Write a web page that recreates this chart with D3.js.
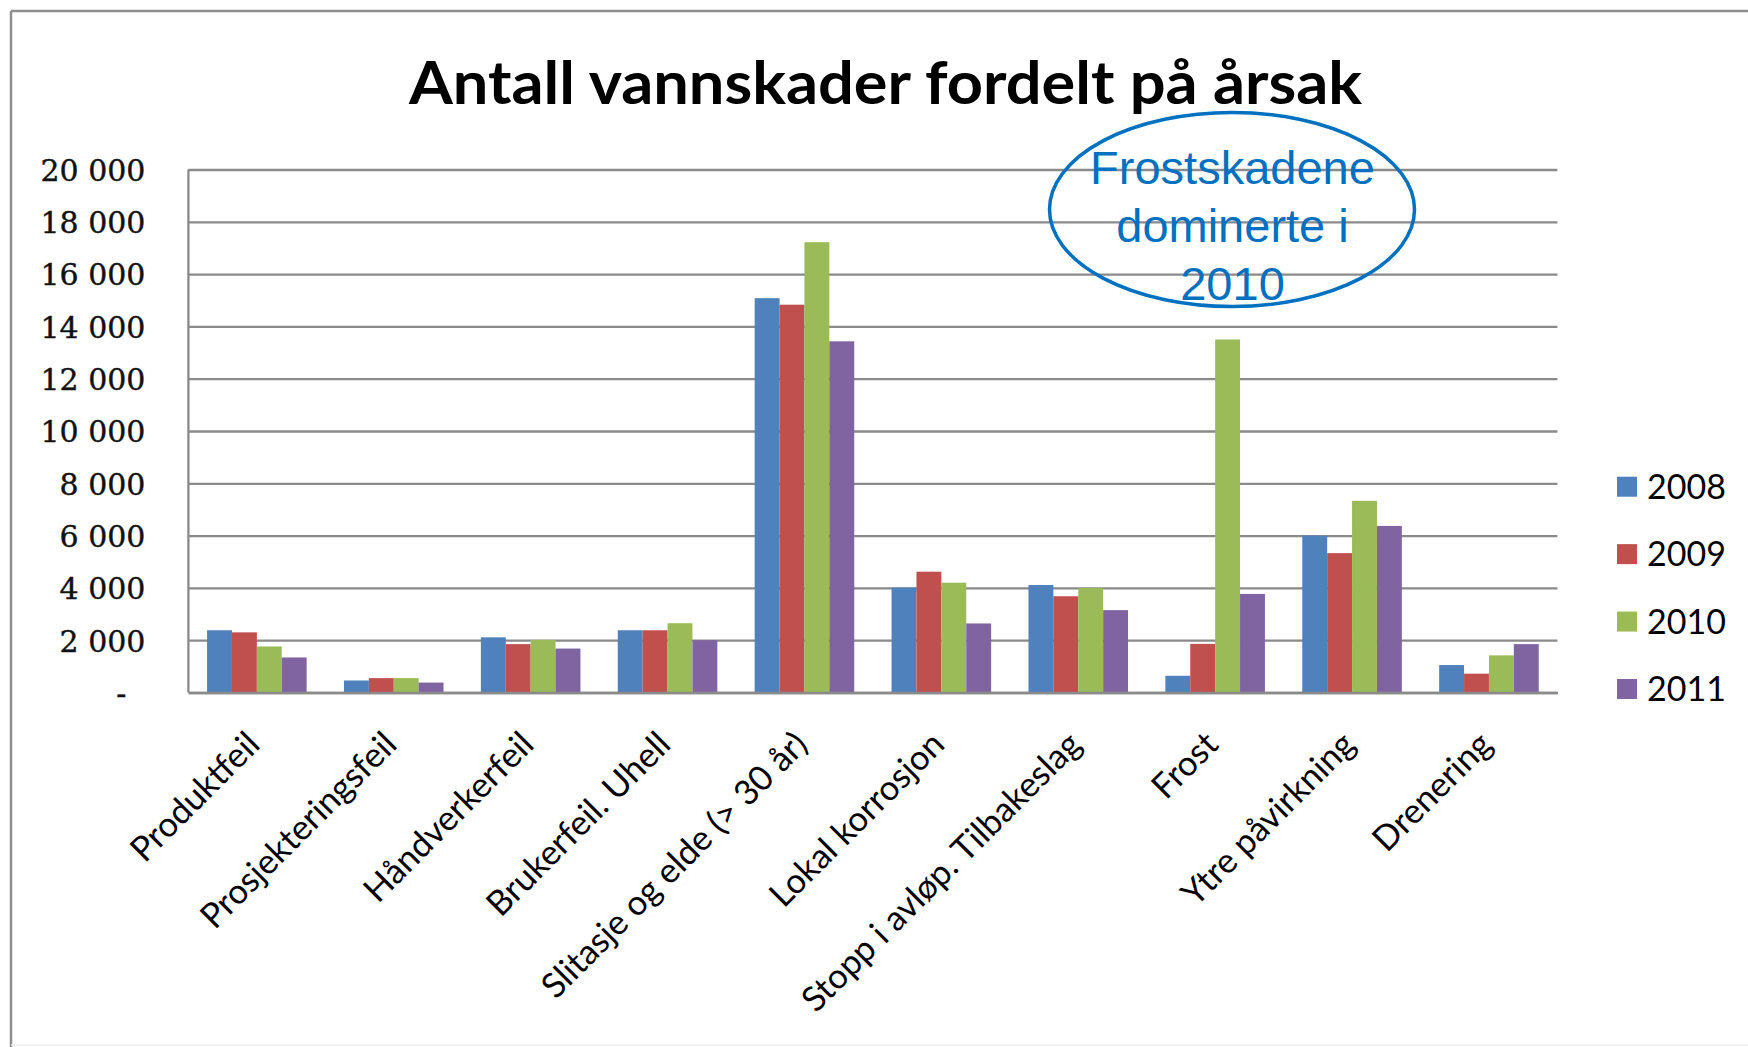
<!DOCTYPE html>
<html>
<head>
<meta charset="utf-8">
<script src="https://cdn.jsdelivr.net/npm/d3@7/dist/d3.min.js"></script>
<style>
  html, body { margin: 0; padding: 0; background: #ffffff; }
  svg { display: block; }
</style>
</head>
<body>
<svg id="chart" width="1748" height="1047"></svg>
<script>
// ---------- data ----------
const categories = [
  "Produktfeil",
  "Prosjekteringsfeil",
  "Håndverkerfeil",
  "Brukerfeil. Uhell",
  "Slitasje og elde (> 30 år)",
  "Lokal korrosjon",
  "Stopp i avløp. Tilbakeslag",
  "Frost",
  "Ytre påvirkning",
  "Drenering"
];
const seriesNames = ["2008", "2009", "2010", "2011"];
const values2008 = [2380, 460, 2110, 2380, 15080, 4010, 4110, 640, 6000, 1050];
const values2009 = [2300, 550, 1850, 2380, 14830, 4620, 3680, 1860, 5330, 720];
const values2010 = [1760, 550, 2010, 2650, 17220, 4200, 4000, 13500, 7330, 1420];
const values2011 = [1340, 380, 1680, 2000, 13430, 2640, 3150, 3770, 6370, 1850];
const seriesColors = ["#4F81BD", "#C0504D", "#9BBB59", "#8064A2"];
const yTickValues = [0, 2000, 4000, 6000, 8000, 10000, 12000, 14000, 16000, 18000, 20000];
const yTickLabels = ["-", "2 000", "4 000", "6 000", "8 000", "10 000", "12 000", "14 000", "16 000", "18 000", "20 000"];
const titleText = "Antall vannskader fordelt på årsak";
const calloutLines = ["Frostskadene", "dominerte i", "2010"];

// ---------- layout ----------
const svg = d3.select("#chart");
const plot = { left: 188.4, right: 1557.4, top: 169.5, bottom: 692.5 };
const allSeries = [values2008, values2009, values2010, values2011];

// outer frame
svg.append("line").attr("x1", 11).attr("y1", 11).attr("x2", 1748).attr("y2", 11)
  .attr("stroke", "#8e8e8e").attr("stroke-width", 2.5);
svg.append("line").attr("x1", 11).attr("y1", 11).attr("x2", 11).attr("y2", 1047)
  .attr("stroke", "#8e8e8e").attr("stroke-width", 2.5);
svg.append("line").attr("x1", 11).attr("y1", 1045).attr("x2", 1748).attr("y2", 1045)
  .attr("stroke", "#ececec").attr("stroke-width", 1.5);

// scales
const x0 = d3.scaleBand().domain(categories).range([plot.left, plot.right])
  .paddingInner(1.5 / 5.5).paddingOuter(0.75 / 5.5);
const x1 = d3.scaleBand().domain(seriesNames).range([0, x0.bandwidth()]).padding(0);
const y = d3.scaleLinear().domain([0, 20000]).range([plot.bottom, plot.top]);

// y axis with gridlines
const yAxis = d3.axisLeft(y)
  .tickValues(yTickValues)
  .tickFormat((d, i) => yTickLabels[i] === "-" ? "-\u00a0\u00a0" : yTickLabels[i])
  .tickSize(-(plot.right - plot.left))
  .tickPadding(43);
const gy = svg.append("g").attr("transform", `translate(${plot.left},0)`).call(yAxis);
gy.select(".domain").remove();
gy.selectAll(".tick line").attr("stroke", "#8a8a8a").attr("stroke-width", 2.3);
gy.selectAll(".tick text")
  .attr("font-family", "'DejaVu Serif', serif")
  .attr("font-size", 30)
  .attr("fill", "#111")
  .attr("stroke", "#111")
  .attr("stroke-width", 0.4)
  .attr("dy", "0.36em");

// bars
const groups = svg.append("g").selectAll("g")
  .data(categories)
  .join("g")
  .attr("transform", d => `translate(${x0(d)},0)`);
groups.selectAll("rect")
  .data((d, ci) => seriesNames.map((s, si) => ({ s, v: allSeries[si][ci], c: seriesColors[si] })))
  .join("rect")
  .attr("x", d => x1(d.s))
  .attr("width", x1.bandwidth())
  .attr("y", d => y(d.v))
  .attr("height", d => y(0) - y(d.v))
  .attr("fill", d => d.c);

// left axis line and baseline
svg.append("line").attr("x1", plot.left).attr("x2", plot.left)
  .attr("y1", plot.top).attr("y2", plot.bottom)
  .attr("stroke", "#8a8a8a").attr("stroke-width", 2.3);

const xAxis = d3.axisBottom(x0).tickSize(0).tickPadding(0);
const gx = svg.append("g").attr("transform", `translate(0,${plot.bottom})`).call(xAxis);
gx.select(".domain").attr("stroke", "#8a8a8a").attr("stroke-width", 2.3);
gx.selectAll(".tick text")
  .attr("font-family", "Lato, sans-serif")
  .attr("font-size", 34.5)
  .attr("fill", "#000")
  .attr("text-anchor", "end")
  .attr("x", 0).attr("y", 0).attr("dy", 0)
  .attr("transform", "translate(5,54) rotate(-45)");

// title
const title = svg.append("text")
  .attr("x", 885.5).attr("y", 104)
  .attr("text-anchor", "middle")
  .attr("font-family", "Lato, sans-serif")
  .attr("font-weight", "bold")
  .attr("font-size", 59)
  .attr("fill", "#000")
  .text(titleText);
const tw = title.node().getComputedTextLength();
if (Math.abs(tw - 953) > 4) {
  title.attr("textLength", 953).attr("lengthAdjust", "spacingAndGlyphs");
}

// legend
const legendCenters = d3.scalePoint().domain(seriesNames).range([486.7, 689]);
const lg = svg.append("g");
seriesNames.forEach((s, i) => {
  const cy = legendCenters(s);
  lg.append("rect").attr("x", 1617).attr("y", cy - 10).attr("width", 20).attr("height", 20)
    .attr("fill", seriesColors[i]);
  lg.append("text").attr("x", 1647).attr("y", cy).attr("dy", "0.36em")
    .attr("font-family", "Lato, sans-serif").attr("font-size", 34).attr("fill", "#000")
    .text(s);
});

// callout ellipse
svg.append("ellipse")
  .attr("cx", 1232).attr("cy", 209.5).attr("rx", 182.5).attr("ry", 97)
  .attr("fill", "none").attr("stroke", "#0070C0").attr("stroke-width", 3.5);
calloutLines.forEach((t, i) => {
  svg.append("text")
    .attr("x", 1232.5).attr("y", 184.3 + i * 58)
    .attr("text-anchor", "middle")
    .attr("font-family", "'Liberation Sans', Arial, sans-serif")
    .attr("font-size", 47)
    .attr("fill", "#0070C0")
    .text(t);
});
</script>
</body>
</html>
